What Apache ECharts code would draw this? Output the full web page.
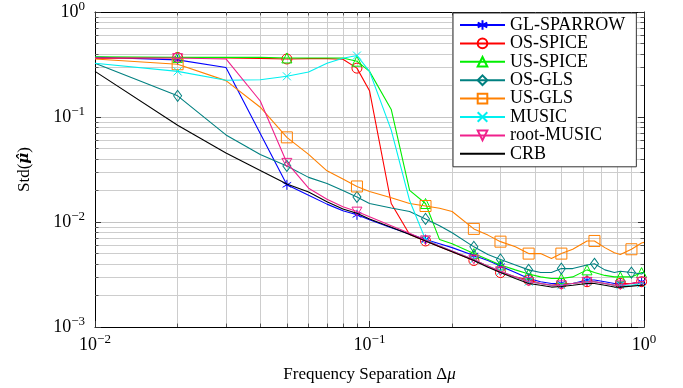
<!DOCTYPE html>
<html><head><meta charset="utf-8">
<script src="https://cdn.jsdelivr.net/npm/echarts@6/dist/echarts.min.js"></script>
<style>html,body{margin:0;padding:0;background:#fff}#c{width:683px;height:388px}</style>
</head><body><div id="c"></div>
<script>
// Frequency separation grid (x values of the line vertices)
const X = [0.01,0.02,0.03,0.04,0.05,0.06,0.07,0.08,0.09,0.1,0.12,0.14,0.16,0.18,0.2,0.24,0.27,0.3,0.34,0.38,0.42,0.46,0.5,0.55,0.62,0.66,0.72,0.78,0.82,0.9,0.98,1.0];
// Std values per method
const glSparrow = [0.372,0.35,0.296,null,0.0226,0.018,0.0148,0.0128,0.0117,0.0105,0.0088,0.0077,0.0068,0.0062,0.0057,0.0048,0.0043,0.0038,0.0033,0.0029,0.0027,0.0026,0.0026,0.0026,0.0028,0.0028,0.0027,0.0026,0.0026,0.0026,0.0027,0.0027];
const osSpice = [0.362,0.369,0.365,0.362,0.357,0.36,0.36,0.355,0.292,0.178,0.015,0.0076,0.0066,0.0058,0.0052,0.0043,0.0038,0.0033,0.003,0.0028,0.0026,0.0025,0.0026,0.0026,0.0027,0.0027,0.0026,0.0025,0.0026,0.0026,0.0027,0.0027];
const usSpice = [0.375,0.37,0.37,0.37,0.365,0.365,0.365,0.365,0.34,0.272,0.118,0.02,0.015,0.0068,0.0062,0.005,0.0044,0.0039,0.0035,0.0032,0.003,0.0029,0.0029,0.003,0.0035,0.0033,0.0031,0.003,0.003,0.003,0.0033,0.0033];
const osGls = [0.325,0.159,0.0675,0.044,0.0342,0.0266,0.0233,0.02,0.0173,0.015,0.0136,0.0126,0.0107,0.0092,0.0079,0.0058,0.0049,0.0044,0.0039,0.0035,0.0033,0.0033,0.0036,0.0036,0.0039,0.004,0.0035,0.0033,0.0034,0.0033,0.0032,0.0033];
const usGls = [0.357,0.318,0.222,0.124,0.064,0.044,0.0307,0.0257,0.0218,0.0195,0.017,0.015,0.0142,0.0135,0.0126,0.0086,0.0075,0.0065,0.0058,0.005,0.005,0.0045,0.005,0.0055,0.0066,0.0066,0.0057,0.0051,0.0049,0.0055,0.0063,0.0064];
const music = [0.325,0.272,0.224,0.226,0.244,0.268,0.325,0.362,0.385,0.272,0.075,0.016,0.0068,0.0059,0.0053,0.0044,0.0038,0.0034,0.003,0.0027,0.0026,0.0025,0.0025,0.0026,0.0027,0.0027,0.0026,0.0025,0.0025,0.0025,0.0026,0.0026];
const rootMusic = [0.365,0.365,0.357,0.142,0.0367,0.021,0.0165,0.014,0.0126,0.0112,0.0092,0.0078,0.0067,0.0059,0.0053,0.0044,0.0038,0.0034,0.003,0.0027,0.0026,0.0025,0.0025,0.0026,0.0027,0.0027,0.0026,0.0025,0.0025,0.0026,0.0027,0.0027];
const crb = [0.272,0.0835,0.0455,0.031,0.023,0.0193,0.0156,0.0133,0.0121,0.0107,0.0089,0.0076,0.0066,0.0058,0.0052,0.0043,0.0037,0.0033,0.0029,0.0026,0.0025,0.0024,0.00243,0.0025,0.0026,0.0026,0.0025,0.0024,0.0024,0.00245,0.0025,0.0025];
// x positions where markers are drawn
const marksA = [0.02,0.05,0.09,0.16,0.24,0.3,0.38,0.5,0.62,0.82,0.98];
const marksB = [0.02,0.05,0.09,0.16,0.24,0.3,0.38,0.5,0.66,0.9];
const names = ['GL-SPARROW','OS-SPICE','US-SPICE','OS-GLS','US-GLS','MUSIC','root-MUSIC','CRB'];

const FONT = 'Liberation Serif, DejaVu Serif, serif';
const G = {left:95, top:9, width:549, height:322};
const XMIN=0.01, XMAX=1, YMIN=0.001, YMAX=1;

const defs = [
  {y:glSparrow, color:'#0000ff', symbol:'path://M5,0L5,10M0.67,2.5L9.33,7.5M0.67,7.5L9.33,2.5', size:10, marks:marksA},
  {y:osSpice, color:'#ff0000', symbol:'circle', size:10, marks:marksA},
  {y:usSpice, color:'#00ee00', symbol:'triangle', size:10, marks:marksA},
  {y:osGls, color:'#008080', symbol:'diamond', size:[8,11], marks:marksB},
  {y:usGls, color:'#ff8000', symbol:'rect', size:11, marks:marksB},
  {y:music, color:'#00f0f0', symbol:'path://M0,0L10,10M10,0L0,10', size:8, marks:marksA},
  {y:rootMusic, color:'#f0208c', symbol:'path://M0,0L10,0L5,8.66Z', size:10, marks:marksA},
  {y:crb, color:'#000000', symbol:'none', size:0, marks:[]}
];

function supLabel(v){
  const e = Math.round(Math.log10(v));
  return '{b|10}{s|' + (e < 0 ? '\u2212' + (-e) : e) + '}';
}
const labelRich = {
  b:{fontFamily:FONT, fontSize:18, color:'#000', lineHeight:24},
  s:{fontFamily:FONT, fontSize:13, color:'#000', lineHeight:13, verticalAlign:'top'}
};

// minor grid lines and minor ticks (drawn through axis coordinates)
const minorX = [], minorY = [];
for (let d=-2; d<0; d++) for (let k=2;k<=9;k++) minorX.push(+(k*Math.pow(10,d)).toPrecision(3));
for (let d=-3; d<0; d++) for (let k=2;k<=9;k++) minorY.push(+(k*Math.pow(10,d)).toPrecision(3));
const gridLines = [];
minorX.forEach(x => gridLines.push([{coord:[x,YMIN]},{coord:[x,YMAX]}]));
minorY.forEach(y => gridLines.push([{coord:[XMIN,y]},{coord:[XMAX,y]}]));
const tl = 3.5;
const ry = Math.pow(10, tl/(G.height/3)), rx = Math.pow(10, tl/(G.width/2));
const tickLines = [];
minorX.forEach(x => { tickLines.push([{coord:[x,YMIN]},{coord:[x,YMIN*ry]}]); tickLines.push([{coord:[x,YMAX]},{coord:[x,YMAX/ry]}]); });
minorY.forEach(y => { tickLines.push([{coord:[XMIN,y]},{coord:[XMIN*rx,y]}]); tickLines.push([{coord:[XMAX,y]},{coord:[XMAX/rx,y]}]); });

const series = defs.map((d,i) => {
  const ms = new Set(d.marks);
  const data = [];
  X.forEach((x,j) => {
    if (d.y[j] == null) return;
    if (ms.has(x)) data.push({value:[x,d.y[j]]});
    else data.push({value:[x,d.y[j]], symbol:'none'});
  });
  return {
    name:names[i], type:'line', data, symbol:d.symbol, symbolSize:d.size,
    showSymbol:true, showAllSymbol:true, symbolKeepAspect:true,
    lineStyle:{color:d.color, width:1.1}, itemStyle:{color:'rgba(0,0,0,0)', borderColor:d.color, borderWidth:1},
    emphasis:{disabled:true}, animation:false, z:3+i, clip:true
  };
});
series.unshift({
  name:'_grid', type:'line', data:[[XMIN,YMIN]], symbol:'none', lineStyle:{opacity:0}, silent:true, z:1, animation:false,
  markLine:{z:1, silent:true, symbol:'none', animation:false, label:{show:false}, lineStyle:{color:'#cdcdcd', width:1, type:'solid'}, emphasis:{disabled:true}, data:gridLines}
});
series.unshift({
  name:'_ticks', type:'line', data:[[XMIN,YMIN]], symbol:'none', lineStyle:{opacity:0}, silent:true, z:2, animation:false,
  markLine:{z:2, silent:true, symbol:'none', animation:false, label:{show:false}, lineStyle:{color:'#555', width:1, type:'solid'}, emphasis:{disabled:true}, data:tickLines}
});

const legendData = names.map(n => n === 'CRB' ? {name:n, itemStyle:{opacity:0, borderWidth:0}} : {name:n});

const axisCommon = {
  type:'log', logBase:10,
  axisLine:{show:true, onZero:false, lineStyle:{color:'#000', width:1}},
  axisTick:{show:true, inside:true, length:6, lineStyle:{color:'#333'}},
  minorTick:{show:false}, minorSplitLine:{show:false}
};
const chart = echarts.init(document.getElementById('c'), null, {renderer:'canvas'});
chart.setOption({
  animation:false,
  backgroundColor:'#fff',
  grid:{left:G.left, top:G.top, width:G.width, height:G.height, containLabel:false},
  xAxis:[
    Object.assign({}, axisCommon, {min:XMIN, max:XMAX, position:'bottom',
      splitLine:{show:true, lineStyle:{color:'#c4c4c4', width:1}},
      axisLabel:{show:true, margin:6, formatter:supLabel, rich:labelRich},
      name:'{a|Frequency Separation \u0394}{i|\u03bc}', nameLocation:'middle', nameGap:39,
      nameTextStyle:{rich:{a:{fontFamily:FONT, fontSize:17, color:'#000'}, i:{fontFamily:FONT, fontSize:17, fontStyle:'italic', color:'#000'}}}
    }),
    Object.assign({}, axisCommon, {min:XMIN, max:XMAX, position:'top', splitLine:{show:false}, axisLabel:{show:false}})
  ],
  yAxis:[
    Object.assign({}, axisCommon, {min:YMIN, max:YMAX, position:'left',
      splitLine:{show:true, lineStyle:{color:'#c4c4c4', width:1}},
      axisLabel:{show:true, margin:10, formatter:supLabel, rich:labelRich},
      name:'{a|Std(}{m|\u03bc\u0302}{a|)}', nameLocation:'middle', nameGap:62,
      nameTextStyle:{rich:{a:{fontFamily:FONT, fontSize:17, color:'#000'}, m:{fontFamily:'DejaVu Serif', fontSize:15, fontStyle:'italic', fontWeight:'bold', color:'#000'}}}
    }),
    Object.assign({}, axisCommon, {min:YMIN, max:YMAX, position:'right', splitLine:{show:false}, axisLabel:{show:false}})
  ],
  legend:{
    data:legendData, orient:'vertical', left:453, top:13, padding:[3,11,4,6], itemGap:0.4, z:10,
    itemWidth:45, itemHeight:12, backgroundColor:'#fff', borderColor:'#333', borderWidth:1, borderRadius:0,
    selectedMode:false,
    textStyle:{fontFamily:FONT, fontSize:18, color:'#000', lineHeight:18}
  },
  series
});
</script></body></html>
